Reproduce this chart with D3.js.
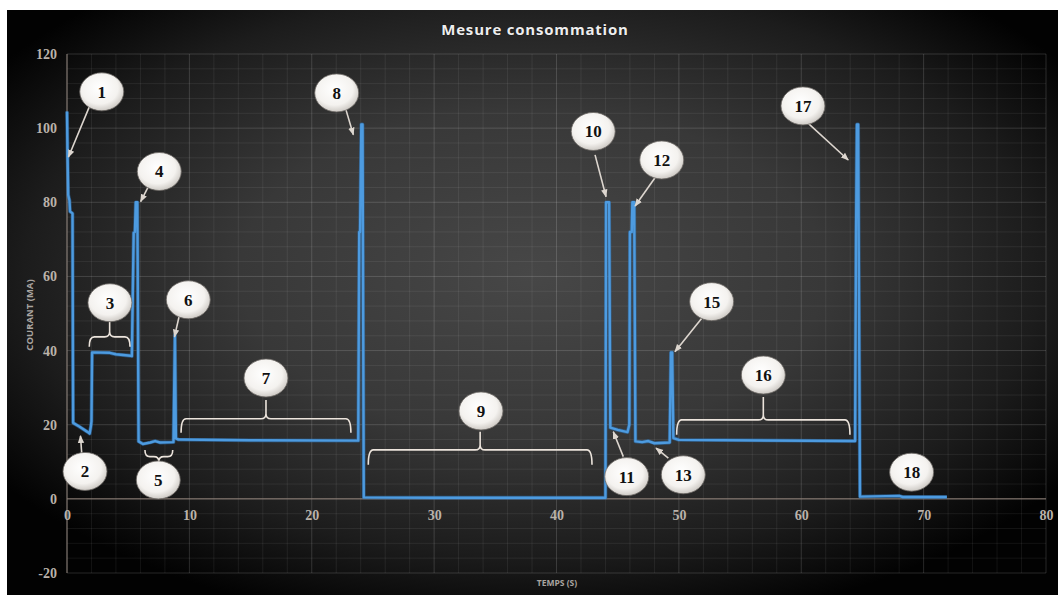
<!DOCTYPE html>
<html>
<head>
<meta charset="utf-8">
<script src="https://cdn.jsdelivr.net/npm/d3@7"></script>
<style>
  html, body { margin: 0; padding: 0; background: #ffffff; }
  svg { display: block; }
</style>
</head>
<body>
<svg id="chart" width="1058" height="595"></svg>
<script>
// ---------- DATA ----------
const timeValues = [
  0, 0.05, 0.1, 0.2, 0.25, 0.45, 0.5, 1.0, 1.7, 1.85, 1.95, 2.0, 2.05, 3.5, 4.0, 5.2, 5.3,
  5.45, 5.55, 5.62, 5.75, 5.85, 6.2, 6.8, 7.2, 7.6, 8.7, 8.82, 8.9, 9.1, 15, 23.8,
  23.88, 23.95, 24.05, 24.15, 24.25, 30, 43.9, 44.0, 44.05, 44.3, 44.4, 45.0, 45.8, 45.95,
  46.0, 46.15, 46.2, 46.35, 46.45, 47.0, 47.5, 48.0, 49.25, 49.35, 49.45, 49.55, 50.0,
  64.4, 64.48, 64.55, 64.65, 64.8, 68.0, 68.3, 71.9
];
const currentValues = [
  104.5, 92, 82, 80.5, 77.5, 77, 20.5, 19.5, 18, 17.6, 19.5, 21, 39.5, 39.4, 39.0, 38.6, 38.5,
  71.8, 72, 80, 80, 15.5, 14.8, 15.2, 15.6, 15.2, 15.3, 44.2, 16.3, 16.0, 15.8, 15.7,
  72, 72, 101, 101, 0.4, 0.3, 0.3, 0.3, 80, 80, 19.2, 18.6, 18.0, 20,
  72, 72, 80, 80, 15.5, 15.3, 15.6, 15.0, 15.2, 39.5, 39.5, 16.4, 15.9,
  15.6, 72, 101, 101, 0.6, 0.8, 0.5, 0.5
];
const xTicks = [0, 10, 20, 30, 40, 50, 60, 70, 80];
const yTicks = [-20, 0, 20, 40, 60, 80, 100, 120];
const titleText = "Mesure consommation";
const xAxisTitle = "TEMPS (S)";
const yAxisTitle = "COURANT (MA)";

// numbered markers: label, circle centre (t, value)
const markerLabels = ["1", "2", "3", "4", "5", "6", "7", "8", "9", "10", "11", "12", "13", "15", "16", "17", "18"];
const markerT      = [2.84, 1.47, 3.51, 7.54, 7.46, 9.91, 16.26, 22.04, 33.83, 43.0, 45.74, 48.6, 50.36, 52.68, 56.9, 60.14, 69.02];
const markerV      = [109.8, 7.4, 52.9, 88.3, 5.1, 53.7, 32.6, 109.5, 23.7, 99.1, 6.0, 91.4, 6.5, 53.2, 33.4, 106.0, 7.2];

// arrows: from -> to (t, value)
const arrowFromT = [1.88, 1.2, 6.72, 9.23, 22.72, 43.15, 45.46, 48.05, 49.14, 51.87, 60.44];
const arrowFromV = [106.2, 12.4, 84.7, 50.2, 105.8, 92.8, 11.4, 86.6, 11.0, 48.7, 101.7];
const arrowToT   = [0.12, 1.1, 6.02, 8.78, 23.4, 44.05, 44.64, 46.42, 48.13, 49.68, 63.84];
const arrowToV   = [92.2, 17.0, 80.2, 43.7, 98.2, 81.5, 18.1, 79.0, 13.7, 39.7, 91.4];

// braces: start t, end t, line value, end value, tip value
const braceT1   = [1.82, 6.37, 9.32, 24.62, 49.82];
const braceT2   = [5.15, 8.64, 23.2, 42.9, 63.98];
const braceLine = [43.7, 11.4, 21.6, 13.2, 21.3];
const braceEnd  = [41.0, 13.2, 17.8, 9.2, 17.3];
const braceTip  = [47.7, 9.7, 26.7, 18.1, 27.5];

// ---------- LAYOUT ----------
const W = 1058, H = 595;
const svg = d3.select("#chart");
const defs = svg.append("defs");

const bg = defs.append("radialGradient").attr("id", "bgGrad")
  .attr("cx", "50%").attr("cy", "45%").attr("r", "62%");
bg.append("stop").attr("offset", "0%").attr("stop-color", "#474747");
bg.append("stop").attr("offset", "45%").attr("stop-color", "#383838");
bg.append("stop").attr("offset", "78%").attr("stop-color", "#1c1c1c");
bg.append("stop").attr("offset", "100%").attr("stop-color", "#020202");

const cg = defs.append("radialGradient").attr("id", "circGrad")
  .attr("cx", "45%").attr("cy", "40%").attr("r", "60%");
cg.append("stop").attr("offset", "0%").attr("stop-color", "#ffffff");
cg.append("stop").attr("offset", "70%").attr("stop-color", "#f4f2ef");
cg.append("stop").attr("offset", "100%").attr("stop-color", "#cfcbc6");

defs.append("marker").attr("id", "arrowHead")
  .attr("viewBox", "0 0 10 10").attr("refX", 9).attr("refY", 5)
  .attr("markerWidth", 5).attr("markerHeight", 5)
  .attr("markerUnits", "strokeWidth")
  .attr("orient", "auto")
  .append("path").attr("d", "M0,1 L10,5 L0,9 z").attr("fill", "#ddd6cf");

svg.append("rect").attr("width", W).attr("height", H).attr("fill", "#ffffff");
svg.append("rect").attr("x", 7).attr("y", 10).attr("width", W - 7).attr("height", H - 10)
  .attr("fill", "url(#bgGrad)");

const x = d3.scaleLinear().domain([0, 80]).range([67, 1046]);
const y = d3.scaleLinear().domain([-20, 120]).range([573, 54]);

// grid
const grid = svg.append("g");
const minorX = d3.range(0, 80.001, 2);
const minorY = d3.range(-20, 120.001, 4);
grid.selectAll(".mx").data(minorX).join("line")
  .attr("x1", d => x(d)).attr("x2", d => x(d))
  .attr("y1", y(120)).attr("y2", y(-20))
  .attr("stroke", d => d % 10 === 0 ? "rgba(255,255,255,0.15)" : "rgba(255,255,255,0.07)")
  .attr("stroke-width", 1);
grid.selectAll(".my").data(minorY).join("line")
  .attr("y1", d => y(d)).attr("y2", d => y(d))
  .attr("x1", x(0)).attr("x2", x(80))
  .attr("stroke", d => d % 20 === 0 ? "rgba(255,255,255,0.15)" : "rgba(255,255,255,0.07)")
  .attr("stroke-width", 1);

// axis lines
svg.append("line").attr("x1", x(0)).attr("x2", x(80)).attr("y1", y(0)).attr("y2", y(0))
  .attr("stroke", "#8e7f76").attr("stroke-width", 1);
svg.append("line").attr("x1", x(0)).attr("x2", x(0)).attr("y1", y(120)).attr("y2", y(-20))
  .attr("stroke", "#8a7e77").attr("stroke-width", 1);

// tick labels via d3 axes
const tickFmt = d => String(d);
const yAxis = d3.axisLeft(y).tickValues(yTicks).tickFormat(tickFmt).tickSize(0).tickPadding(10);
const yg = svg.append("g").attr("transform", `translate(${x(0)},0)`).call(yAxis);
yg.select(".domain").remove();
yg.selectAll("text")
  .attr("font-family", "'Liberation Serif', 'DejaVu Serif', serif")
  .attr("font-weight", "bold").attr("font-size", 14).attr("fill", "#bab2aa");

const xAxis = d3.axisBottom(x).tickValues(xTicks).tickFormat(tickFmt).tickSize(0).tickPadding(11);
const xg = svg.append("g").attr("transform", `translate(0,${y(0)})`).call(xAxis);
xg.select(".domain").remove();
xg.selectAll("text")
  .attr("font-family", "'Liberation Serif', 'DejaVu Serif', serif")
  .attr("font-weight", "bold").attr("font-size", 14).attr("fill", "#bab2aa");

// titles
svg.append("text").attr("x", 535).attr("y", 35).attr("text-anchor", "middle")
  .attr("font-family", "'Open Sans', sans-serif").attr("font-weight", "bold")
  .attr("font-size", 15).attr("letter-spacing", 0.8).attr("fill", "#eeeeee")
  .style("paint-order", "stroke").attr("stroke", "rgba(0,0,0,0.35)").attr("stroke-width", 1.2)
  .text(titleText);

svg.append("text").attr("x", 557).attr("y", 586).attr("text-anchor", "middle")
  .attr("font-family", "'Open Sans', sans-serif").attr("font-weight", "bold")
  .attr("font-size", 8.5).attr("fill", "#a9a4a0")
  .text(xAxisTitle);

svg.append("text").attr("transform", "translate(33,315) rotate(-90)").attr("text-anchor", "middle")
  .attr("font-family", "'Open Sans', sans-serif").attr("font-weight", "bold")
  .attr("font-size", 9.5).attr("fill", "#a9a4a0")
  .text(yAxisTitle);

// series line
const series = timeValues.map((t, i) => [t, currentValues[i]]);
const line = d3.line().x(d => x(d[0])).y(d => y(d[1]));
svg.append("path").datum(series).attr("d", line)
  .attr("fill", "none").attr("stroke", "#2f6fae").attr("stroke-width", 3.8)
  .attr("stroke-linejoin", "round").attr("opacity", 0.6);
svg.append("path").datum(series).attr("d", line)
  .attr("fill", "none").attr("stroke", "#4d9be0").attr("stroke-width", 2.4)
  .attr("stroke-linejoin", "round");

// braces
const braceG = svg.append("g");
braceT1.forEach((t1, i) => {
  const x1 = x(t1), x2 = x(braceT2[i]), xm = (x1 + x2) / 2;
  const yl = y(braceLine[i]), ye = y(braceEnd[i]), yt = y(braceTip[i]);
  const r = 5;
  const sTip = Math.sign(yt - yl);
  const p = d3.path();
  p.moveTo(x1, ye);
  p.quadraticCurveTo(x1, yl, x1 + r, yl);
  p.lineTo(xm - r, yl);
  p.quadraticCurveTo(xm, yl, xm, yl + sTip * Math.min(r, Math.abs(yt - yl)));
  p.lineTo(xm, yt);
  p.moveTo(xm, yl + sTip * Math.min(r, Math.abs(yt - yl)));
  p.quadraticCurveTo(xm, yl, xm + r, yl);
  p.lineTo(x2 - r, yl);
  p.quadraticCurveTo(x2, yl, x2, ye);
  braceG.append("path").attr("d", p.toString())
    .attr("fill", "none").attr("stroke", "#ece4dc").attr("stroke-width", 1.6);
});

// arrows
const arrowG = svg.append("g");
arrowFromT.forEach((t, i) => {
  arrowG.append("line")
    .attr("x1", x(t)).attr("y1", y(arrowFromV[i]))
    .attr("x2", x(arrowToT[i])).attr("y2", y(arrowToV[i]))
    .attr("stroke", "#ddd6cf").attr("stroke-width", 1.6)
    .attr("marker-end", "url(#arrowHead)");
});

// numbered circles
const mk = svg.append("g").selectAll("g").data(markerLabels).join("g")
  .attr("transform", (d, i) => `translate(${x(markerT[i])},${y(markerV[i])})`);
mk.append("ellipse").attr("rx", 22).attr("ry", 19)
  .attr("fill", "url(#circGrad)").attr("stroke", "#6b6763").attr("stroke-width", 0.8);
mk.append("text").attr("text-anchor", "middle").attr("dy", "0.35em")
  .attr("font-family", "'Liberation Serif', 'DejaVu Serif', serif")
  .attr("font-weight", "bold").attr("font-size", 17).attr("fill", "#111111")
  .text(d => d);
</script>
</body>
</html>
